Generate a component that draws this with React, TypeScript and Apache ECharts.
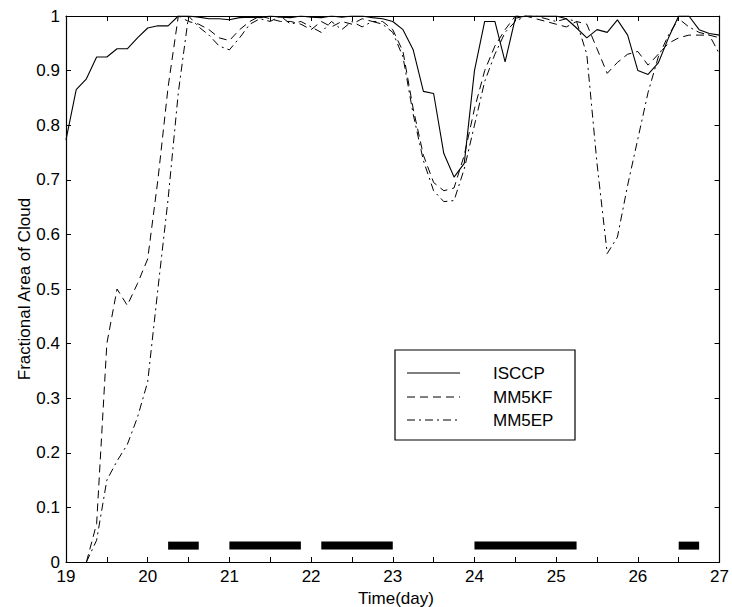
import React, { useEffect, useRef } from "react";
import * as echarts from "echarts";

const days = [
  19.0, 19.125, 19.25, 19.375, 19.5, 19.625, 19.75, 19.875,
  20.0, 20.125, 20.25, 20.375, 20.5, 20.625, 20.75, 20.875,
  21.0, 21.125, 21.25, 21.375, 21.5, 21.625, 21.75, 21.875,
  22.0, 22.125, 22.25, 22.375, 22.5, 22.625, 22.75, 22.875,
  23.0, 23.125, 23.25, 23.375, 23.5, 23.625, 23.75, 23.875,
  24.0, 24.125, 24.25, 24.375, 24.5, 24.625, 24.75, 24.875,
  25.0, 25.125, 25.25, 25.375, 25.5, 25.625, 25.75, 25.875,
  26.0, 26.125, 26.25, 26.375, 26.5, 26.625, 26.75, 26.875,
  27.0,
];

const isccp = [
  0.773, 0.865, 0.885, 0.925, 0.925, 0.94, 0.94, 0.96,
  0.978, 0.982, 0.982, 1.0, 1.0, 0.998, 0.995, 0.995,
  0.993, 0.997, 0.998, 0.997, 1.0, 0.998, 0.997, 1.0,
  0.998, 0.997, 1.0, 0.998, 1.0, 1.0, 0.997, 0.995,
  0.99, 0.975, 0.938, 0.862, 0.858, 0.748, 0.705, 0.73,
  0.9, 0.99, 0.99, 0.916, 0.996, 1.0, 1.0, 1.0,
  1.0, 0.995, 0.978, 0.96, 0.975, 0.97, 0.993, 0.965,
  0.9, 0.893, 0.914, 0.96, 1.0, 1.0, 0.975, 0.968,
  0.965,
];

const mm5kf = [
  null, null, 0.0, 0.07, 0.4, 0.5, 0.47, 0.51,
  0.555, 0.7, 0.87, 1.0, 0.99, 0.985, 0.975, 0.96,
  0.955, 0.975, 0.99, 1.0, 0.995, 0.99, 0.99, 0.985,
  0.975, 0.99, 0.98, 0.99, 0.985, 0.995, 0.99, 0.99,
  0.975, 0.935, 0.83, 0.745, 0.695, 0.68, 0.685, 0.745,
  0.83, 0.9, 0.945, 0.975, 1.0, 1.0, 0.995, 0.99,
  0.985, 0.98, 0.99, 0.985, 0.94, 0.895, 0.915, 0.93,
  0.935, 0.91, 0.93, 0.95, 0.96, 0.965, 0.965, 0.965,
  0.96,
];

const mm5ep = [
  null, null, 0.0, 0.04, 0.15, 0.185, 0.215, 0.265,
  0.33, 0.5, 0.665, 0.86, 1.0, 0.98, 0.965, 0.945,
  0.938, 0.96, 0.985, 0.995, 0.99, 1.0, 0.985, 0.99,
  0.98, 0.97, 0.99, 0.975, 0.99, 0.98, 0.99, 0.985,
  0.97, 0.925, 0.82, 0.735, 0.68, 0.66, 0.662, 0.72,
  0.8, 0.88, 0.93, 0.97, 0.99, 1.0, 1.0, 0.995,
  0.99, 0.995, 0.99, 0.93, 0.73, 0.565, 0.595, 0.69,
  0.775, 0.86, 0.925, 0.965, 0.995, 0.98, 0.97, 0.965,
  0.93,
];

// black bars: [start day, end day, level]
const barStarts = [20.25, 21.0, 22.125, 24.0, 26.5];
const barEnds = [20.625, 21.875, 23.0, 25.25, 26.75];
const barLevel = 0.03;

const seriesNames = ["ISCCP", "MM5KF", "MM5EP"];
const xTickLabels = ["19", "20", "21", "22", "23", "24", "25", "26", "27"];

const FONT = "'Liberation Sans', Arial, Helvetica, sans-serif";
const DASH = [8, 5];
const DASHDOT = [8, 4, 2, 4];

export default function App() {
  const ref = useRef<HTMLDivElement>(null);

  useEffect(() => {
    if (!ref.current) return;
    const chart = echarts.init(ref.current, null, { renderer: "svg" });

    const pairs = (arr: (number | null)[]) =>
      days.map((d, i) => [d, arr[i] === null ? null : arr[i]]);

    const bars = barStarts.map((s, i) => [s, barEnds[i], barLevel]);

    const tickCommon = {
      show: true,
      inside: true,
      length: 5,
      lineStyle: { color: "#000", width: 1 },
    };
    const lineCommon = { show: true, onZero: false, lineStyle: { color: "#000", width: 1.2 } };

    const legendTop = 350;
    const legendRows = [373, 397, 420];
    const legendDashes: any[] = ["solid", DASH, DASHDOT];

    chart.setOption({
      animation: false,
      backgroundColor: "#fff",
      grid: { left: 66, right: 9, top: 16, bottom: 45, containLabel: false },
      xAxis: [
        {
          type: "value",
          min: 19,
          max: 27,
          interval: 0.5,
          position: "bottom",
          axisLine: lineCommon,
          axisTick: tickCommon,
          splitLine: { show: false },
          axisLabel: {
            margin: 6,
            fontFamily: FONT,
            fontSize: 17,
            color: "#000",
            showMaxLabel: true,
            showMinLabel: true,
            formatter: (v: number) => {
              const idx = xTickLabels.indexOf(String(v));
              return idx >= 0 ? xTickLabels[idx] : "";
            },
          },
        },
        {
          type: "value",
          min: 19,
          max: 27,
          interval: 0.5,
          position: "top",
          axisLine: lineCommon,
          axisTick: tickCommon,
          splitLine: { show: false },
          axisLabel: { show: false },
        },
      ],
      yAxis: [
        {
          type: "value",
          min: 0,
          max: 1,
          interval: 0.1,
          position: "left",
          axisLine: lineCommon,
          axisTick: tickCommon,
          splitLine: { show: false },
          axisLabel: {
            margin: 6,
            fontFamily: FONT,
            fontSize: 17,
            color: "#000",
            formatter: (v: number) => String(Math.round(v * 10) / 10),
          },
        },
        {
          type: "value",
          min: 0,
          max: 1,
          interval: 0.1,
          position: "right",
          axisLine: lineCommon,
          axisTick: tickCommon,
          splitLine: { show: false },
          axisLabel: { show: false },
        },
      ],
      series: [
        {
          name: seriesNames[0],
          type: "line",
          data: pairs(isccp),
          showSymbol: false,
          symbol: "none",
          lineStyle: { color: "#000", width: 1.1, type: "solid" },
          z: 5,
        },
        {
          name: seriesNames[1],
          type: "line",
          data: pairs(mm5kf),
          showSymbol: false,
          symbol: "none",
          lineStyle: { color: "#000", width: 1, type: DASH },
          z: 4,
        },
        {
          name: seriesNames[2],
          type: "line",
          data: pairs(mm5ep),
          showSymbol: false,
          symbol: "none",
          lineStyle: { color: "#000", width: 1, type: DASHDOT },
          z: 4,
        },
        {
          name: "bars",
          type: "custom",
          data: bars,
          encode: { x: [0, 1], y: 2 },
          renderItem: (params: any, api: any) => {
            const s = api.coord([api.value(0), api.value(2)]);
            const e = api.coord([api.value(1), api.value(2)]);
            return {
              type: "rect",
              shape: { x: s[0], y: s[1] - 4, width: e[0] - s[0], height: 8 },
              style: { fill: "#000" },
            };
          },
          z: 6,
        },
      ],
      graphic: [
        {
          type: "text",
          x: 24,
          y: 289,
          rotation: Math.PI / 2,
          style: {
            text: "Fractional Area of Cloud",
            fontFamily: FONT,
            fontSize: 17,
            fill: "#000",
            align: "center",
            verticalAlign: "middle",
          },
        },
        {
          type: "text",
          x: 396,
          y: 598,
          style: {
            text: "Time(day)",
            fontFamily: FONT,
            fontSize: 17,
            fill: "#000",
            align: "center",
            verticalAlign: "middle",
          },
        },
        {
          type: "rect",
          shape: { x: 395, y: legendTop, width: 180, height: 90 },
          style: { fill: "#fff", stroke: "#000", lineWidth: 1.2 },
          z: 10,
        },
        ...legendRows.flatMap((yy, i) => [
          {
            type: "line",
            shape: { x1: 407, y1: yy, x2: 460, y2: yy },
            style: { stroke: "#000", lineWidth: 1, lineDash: legendDashes[i] },
            z: 11,
          },
          {
            type: "text",
            x: 493,
            y: yy,
            style: {
              text: seriesNames[i],
              fontFamily: FONT,
              fontSize: 17,
              fill: "#000",
              align: "left",
              verticalAlign: "middle",
            },
            z: 11,
          },
        ]),
      ],
    });

    return () => chart.dispose();
  }, []);

  return (
    <div
      ref={ref}
      style={{ position: "fixed", left: 0, top: 0, width: 732, height: 607 }}
    />
  );
}
